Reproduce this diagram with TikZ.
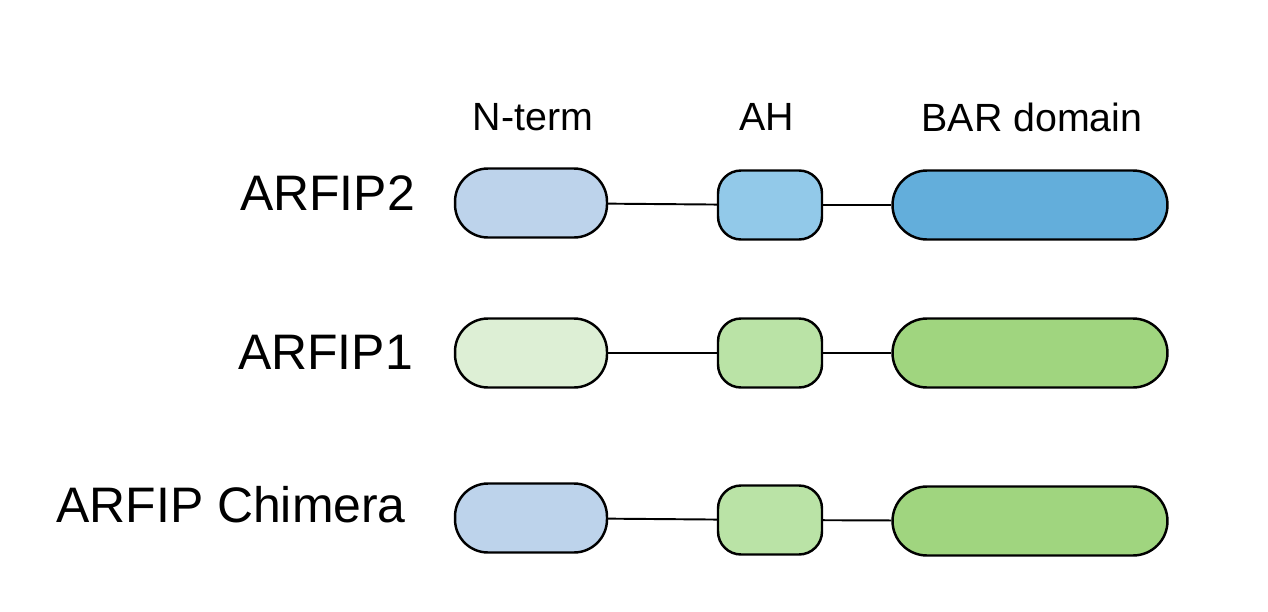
\documentclass[tikz,border=0pt]{standalone}
\usepackage{fontspec}
\setmainfont{Liberation Sans}
\usepackage{xcolor}
\usetikzlibrary{positioning}

\definecolor{ntblue}{HTML}{BDD3EB}
\definecolor{ahblue}{HTML}{92C9E9}
\definecolor{barblue}{HTML}{63AEDB}
\definecolor{ntgreen}{HTML}{DDEFD5}
\definecolor{ahgreen}{HTML}{BAE3A6}
\definecolor{bargreen}{HTML}{A0D57F}

\tikzset{
	dom/.style = {draw, line width = 1.4pt, inner sep = 0pt, minimum height = 1.38cm},
	nterm/.style = {dom, minimum width = 3.04cm, rounded corners = 0.66cm},
	ahbox/.style = {dom, minimum width = 2.08cm, rounded corners = 0.46cm},
	barbox/.style = {dom, minimum width = 5.5cm, rounded corners = 0.69cm},
	link/.style = {line width = 1.1pt},
	protlabel/.style = {anchor = east, font = \fontsize{28.4}{34}\selectfont},
	head/.style = {font = \fontsize{22.4}{27}\selectfont}
}

\begin{document}
\begin{tikzpicture}[x = 0.02cm, y = -0.02cm]
	\useasboundingbox (0,0) rectangle (1268,612);

	% column titles
	\node[head] (hnt) at (533,117) {N-term};
	\node[head] (hah) at (767,117) {AH};
	\node[head] (hbar) at (1032,117) {BAR domain};

	% ARFIP2
	\node[protlabel] (lab2) at (421,193) {ARFIP2};
	\node[nterm, fill = ntblue] (nt2) at (531,203) {};
	\node[ahbox, fill = ahblue] (ah2) at (770,205) {};
	\node[barbox, fill = barblue] (bar2) at (1030,205) {};
	\draw[link] (nt2) -- (ah2);
	\draw[link] (ah2) -- (bar2);

	% ARFIP1
	\node[protlabel] (lab1) at (419,352) {ARFIP1};
	\node[nterm, fill = ntgreen] (nt1) at (531,353) {};
	\node[ahbox, fill = ahgreen] (ah1) at (770,353) {};
	\node[barbox, fill = bargreen] (bar1) at (1030,353) {};
	\draw[link] (nt1) -- (ah1);
	\draw[link] (ah1) -- (bar1);

	% chimera
	\node[protlabel] (labc) at (412,505) {ARFIP Chimera};
	\node[nterm, fill = ntblue] (ntc) at (531,518) {};
	\node[ahbox, fill = ahgreen] (ahc) at (770,520) {};
	\node[barbox, fill = bargreen] (barc) at (1030,521) {};
	\draw[link] (ntc) -- (ahc);
	\draw[link] (ahc) -- (barc);
\end{tikzpicture}
\end{document}
